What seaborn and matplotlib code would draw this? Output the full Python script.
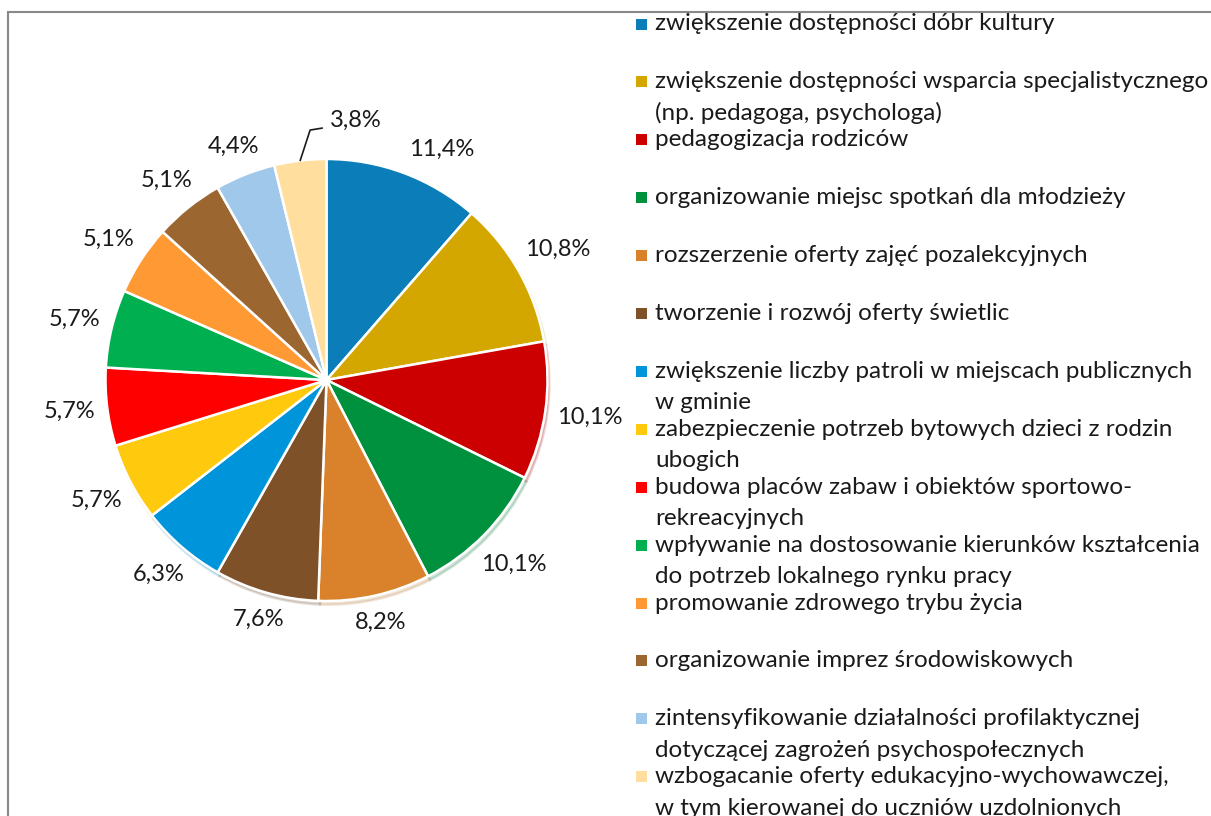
import numpy as np
import matplotlib.pyplot as plt
import seaborn as sns
from matplotlib.patches import Rectangle

sns.set_theme(style="white")
plt.rcParams["font.family"] = ["Lato", "DejaVu Sans"]

# slice values (%), clockwise from 12 o'clock
shares = [11.4, 10.8, 10.1, 10.1, 8.2, 7.6, 6.3, 5.7, 5.7, 5.7, 5.1, 5.1, 4.4, 3.8]
pct_labels = [f"{v:.1f}%".replace(".", ",") for v in shares]
categories = [
    "zwiększenie dostępności dóbr kultury",
    "zwiększenie dostępności wsparcia specjalistycznego\n(np. pedagoga, psychologa)",
    "pedagogizacja rodziców",
    "organizowanie miejsc spotkań dla młodzieży",
    "rozszerzenie oferty zajęć pozalekcyjnych",
    "tworzenie i rozwój oferty świetlic",
    "zwiększenie liczby patroli w miejscach publicznych\nw gminie",
    "zabezpieczenie potrzeb bytowych dzieci z rodzin\nubogich",
    "budowa placów zabaw i obiektów sportowo-\nrekreacyjnych",
    "wpływanie na dostosowanie kierunków kształcenia\ndo potrzeb lokalnego rynku pracy",
    "promowanie zdrowego trybu życia",
    "organizowanie imprez środowiskowych",
    "zintensyfikowanie działalności profilaktycznej\ndotyczącej zagrożeń psychospołecznych",
    "wzbogacanie oferty edukacyjno-wychowawczej,\nw tym kierowanej do uczniów uzdolnionych",
]
colors = [
    "#0B7DB8", "#D4A600", "#CC0000", "#00913F", "#D9822B", "#7F5128", "#0095DA",
    "#FFC90E", "#FF0000", "#00B050", "#FF9933", "#9C6631", "#A0C8EA", "#FFDE9E",
]

W, H = 1211, 816
fig = plt.figure(figsize=(W / 100, H / 100), dpi=100)

# pie axes: center (326.5, 380) px, radius 221 px
R_px, lim = 221, 1.4
side = 2 * lim * R_px
cx, cy = 326.5, H - 380
ax = fig.add_axes([(cx - side / 2) / W, (cy - side / 2) / H, side / W, side / H])

wedges, texts = ax.pie(
    shares,
    colors=colors,
    labels=pct_labels,
    startangle=90,
    counterclock=False,
    wedgeprops=dict(edgecolor="white", linewidth=1.8),
    textprops=dict(fontsize=17, color="#1a1a1a"),
    shadow=dict(ox=0.006, oy=-0.012, shade=0.2, alpha=0.18),
)
ax.set_xlim(-lim, lim)
ax.set_ylim(-lim, lim)
ax.set_aspect("equal")
ax.axis("off")

# place each label just outside the rim ("outside end" style)
fig.canvas.draw()
renderer = fig.canvas.get_renderer()
for w, t in zip(wedges, texts):
    th = np.deg2rad((w.theta1 + w.theta2) / 2)
    bb = t.get_window_extent(renderer)
    half_w, half_h = bb.width / 2 / R_px, bb.height / 2 / R_px
    r = 1.05 + half_w * abs(np.cos(th)) + half_h * abs(np.sin(th))
    t.set_position((r * np.cos(th), r * np.sin(th)))
    t.set_ha("center")
    t.set_va("center")

# the first label is pushed right to make room for the last one,
# which sits next to the top with a leader line
x0, y0_ = texts[0].get_position()
texts[0].set_position((x0 + 0.12, y0_ - 0.03))
th = np.deg2rad((wedges[-1].theta1 + wedges[-1].theta2) / 2)
ex, ey = np.cos(th), np.sin(th)
texts[-1].set_position((ex + 0.25, ey + 0.18))
ax.plot([ex, ex + 0.045, ex + 0.1], [ey, ey + 0.138, ey + 0.147],
        color="#1a1a1a", lw=1.2, clip_on=False)

# legend, one entry every ~58 px, second text line 31 px below the first
y0, step, line_h = 24, 57.9, 31.5
for i, (lab, col) in enumerate(zip(categories, colors)):
    y = y0 + i * step
    fig.add_artist(Rectangle((636 / W, (H - y - 5.5) / H), 11 / W, 11 / H,
                             transform=fig.transFigure, color=col, lw=0))
    for j, line in enumerate(lab.split("\n")):
        fig.text(655 / W, (H - y - j * line_h) / H, line, ha="left", va="center",
                 fontsize=17.5, color="#1a1a1a")

# chart frame, cut off at right and bottom
fig.add_artist(Rectangle((8 / W, -0.1), 1.2, (H - 12) / H + 0.1,
                         transform=fig.transFigure, fill=False,
                         edgecolor="#888888", lw=1.5))

plt.savefig("out.png", dpi=100)
